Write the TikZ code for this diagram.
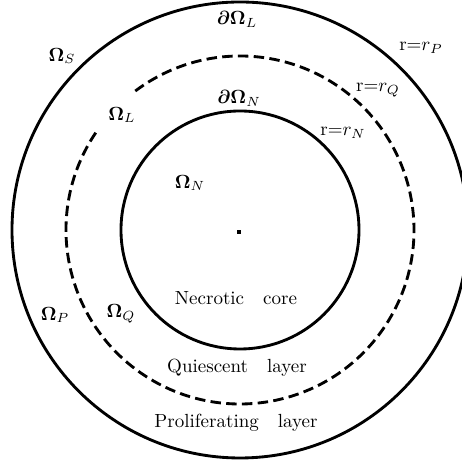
\documentclass[tikz,border=0pt]{standalone}
\usepackage{amsmath}
\usepackage{amssymb}
\usepackage{bm}
\usepackage{tikz}

\tikzset{
  ring/.style={line width=1.5pt},
  dashring/.style={line width=1.5pt,dash pattern=on 5.5pt off 2.8pt},
  lab/.style={inner sep=1pt}
}

\begin{document}
\begin{tikzpicture}[x=0.01849cm,y=0.01849cm]
\useasboundingbox (-240,-231) rectangle (222,230);
\clip (-240,-231) rectangle (222,230);
% boundaries
\draw[ring] (0,0) circle (228);
\draw[dashring] (146:174) arc (146:487:174);
\draw[ring] (0,0) circle (119);
\fill (-3,-4) rectangle (1,0);
% labels on the outer boundary
\node[lab] (dOmL) at (-3,211) {$\bm{\partial\Omega}_L$};
\node[lab] (OmS) at (-178,174) {$\bm{\Omega}_S$};
\node[lab] (rP) at (181,182) {$\mathrm{r}{=}r_P$};
% labels on the dashed boundary
\node[lab] (rQ) at (138,140) {$\mathrm{r}{=}r_Q$};
\node[lab] (OmL) at (-118,115) {$\bm{\Omega}_L$};
% labels on the inner boundary
\node[lab] (dOmN) at (-1,132) {$\bm{\partial\Omega}_N$};
\node[lab] (rN) at (103,97) {$\mathrm{r}{=}r_N$};
\node[lab] (OmN) at (-50,47) {$\bm{\Omega}_N$};
% region names
\node[lab] (core) at (-4,-68) {Necrotic\quad core};
\node[lab] (OmP) at (-185,-85) {$\bm{\Omega}_P$};
\node[lab] (OmQ) at (-119,-84) {$\bm{\Omega}_Q$};
\node[lab] (quies) at (-3,-138) {Quiescent\quad layer};
\node[lab] (prolif) at (-4,-193) {Proliferating\quad layer};
\end{tikzpicture}
\end{document}
